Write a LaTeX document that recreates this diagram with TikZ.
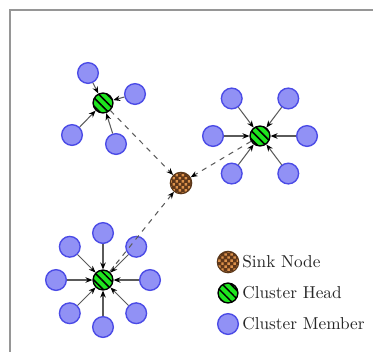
\documentclass[tikz,border=0pt]{standalone}
\usepackage{tikz}
\usetikzlibrary{patterns.meta, arrows.meta}

\begin{document}
\begin{tikzpicture}[x=0.58pt,y=0.58pt,yscale=-1,xscale=1,
    member/.style={circle, draw={rgb, 255:red, 75; green, 75; blue, 230}, line width=0.8pt, fill={rgb, 255:red, 145; green, 145; blue, 245}, minimum size=12pt, inner sep=0pt},
    head/.style={circle, draw=black, line width=0.8pt, preaction={fill={rgb, 255:red, 30; green, 230; blue, 30}}, pattern={Lines[angle=-45, distance=3.4pt, line width=0.9pt]}, pattern color=black, minimum size=11.5pt, inner sep=0pt},
    sink/.style={circle, draw={rgb, 255:red, 90; green, 55; blue, 25}, line width=0.6pt, preaction={fill={rgb, 255:red, 95; green, 55; blue, 25}}, pattern={Dots[radius=1pt, distance=2.5pt, angle=45]}, pattern color={rgb, 255:red, 220; green, 145; blue, 75}, minimum size=12.5pt, inner sep=0pt},
    link/.style={draw={rgb, 255:red, 90; green, 90; blue, 90}, line width=0.6pt, -{Stealth[length=4pt, width=3.2pt, color=black]}},
    uplink/.style={link, dashed},
    legendtext/.style={anchor=west, inner sep=0pt, text=black!85}]
    \useasboundingbox (0,0) rectangle (373,352);

    %Shape: Frame
    \draw [color={rgb, 255:red, 150; green, 150; blue, 150}, line width=1pt] (373,10) -- (10,10) -- (10,352);

    % Sink
    \node [sink] (sink) at (181,183) {};

    % Cluster 1 (top left)
    \node [head] (h1) at (103,103) {};
    \node [member] (m1a) at (88,73) {};
    \node [member] (m1b) at (135,94) {};
    \node [member] (m1c) at (72,135) {};
    \node [member] (m1d) at (116,144) {};
    \foreach \m in {m1a,m1b,m1c,m1d}
        \draw [link] (\m) -- (h1);

    % Cluster 2 (right)
    \node [head] (h2) at (260,136) {};
    \foreach \a [count=\i] in {0,53,127,180,233,307} {
        \node [member] (m2\i) at ([shift={(\a:47)}]h2.center) {};
        \draw [link] (m2\i) -- (h2);
    }

    % Cluster 3 (bottom left)
    \node [head] (h3) at (103,280) {};
    \foreach \a [count=\i] in {0,45,...,315} {
        \node [member] (m3\i) at ([shift={(\a:47)}]h3.center) {};
        \draw [link] (m3\i) -- (h3);
    }

    % Heads to sink
    \foreach \h in {h1,h2,h3}
        \draw [uplink] (\h) -- (sink);

    % Legend
    \node [sink] (lsink) at (228,262) {};
    \node [head] (lhead) at (228,293) {};
    \node [member] (lmember) at (228,324) {};
    \node [legendtext] (tsink) at (242,262) {Sink Node};
    \node [legendtext] (thead) at (242,293) {Cluster Head};
    \node [legendtext] (tmember) at (242,324) {Cluster Member};

\end{tikzpicture}
\end{document}
